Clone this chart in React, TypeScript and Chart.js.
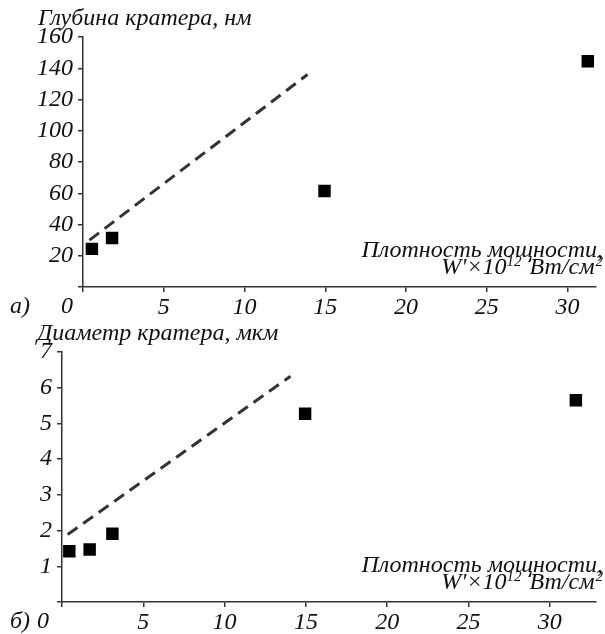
import React, { useEffect, useRef } from "react";
import { Chart, registerables } from "chart.js";

Chart.register(...registerables);

// ---- Data ----
const xTicks = [0, 5, 10, 15, 20, 25, 30];

const depthX = [0.55, 1.8, 14.95, 31.25];
const depthY = [24.4, 31.4, 61.5, 144.5];
const depthFitX = [0.4, 13.9];
const depthFitY = [30, 136];
const depthTicks = [0, 20, 40, 60, 80, 100, 120, 140, 160];

const diamX = [0.45, 1.7, 3.1, 14.95, 31.6];
const diamY = [1.42, 1.47, 1.91, 5.27, 5.65];
const diamFitX = [0.35, 14.05];
const diamFitY = [1.89, 6.32];
const diamTicks = [0, 1, 2, 3, 4, 5, 6, 7];

const FONT = "'Liberation Serif', 'Times New Roman', serif";
const INK = "#111";
const AXIS = "#333";
const FS = 24;

type PanelCfg = {
  xs: number[];
  ys: number[];
  fitX: number[];
  fitY: number[];
  yTicks: number[];
  yMax: number;
  xMax: number;
  yAxisWidth: number;
  xAxisHeight: number;
  topPad: number;
  title: string;
  titleX: number;
  titleY: number;
  panel: string;
  panelX: number;
  zeroX: number;
  labelsY: number;
  axisTitleY1: number;
  axisTitleY2: number;
};

function makeTextPlugin(cfg: PanelCfg) {
  return {
    id: "extraText",
    afterDraw(chart: any) {
      const ctx = chart.ctx as CanvasRenderingContext2D;
      ctx.save();
      ctx.fillStyle = INK;
      ctx.textBaseline = "alphabetic";
      const mainF = `italic ${FS}px ${FONT}`;
      const supF = `italic 15px ${FONT}`;
      // y-axis title
      ctx.font = mainF;
      ctx.textAlign = "left";
      ctx.fillText(cfg.title, cfg.titleX, cfg.titleY);
      // panel label and zero
      ctx.fillText(cfg.panel, cfg.panelX, cfg.labelsY);
      ctx.textAlign = "center";
      ctx.fillText("0", cfg.zeroX, cfg.labelsY);
      // x-axis title, right aligned
      ctx.textAlign = "right";
      ctx.fillText("Плотность мощности,", 603, cfg.axisTitleY1);
      const parts: [string, boolean, number][] = [
        ["W'×10", false, 0],
        ["12", true, 2],
        [" Вт/см", false, 1],
        ["2", true, 0],
      ];
      let total = 0;
      for (const [t, sup, gap] of parts) {
        ctx.font = sup ? supF : mainF;
        total += ctx.measureText(t).width + gap;
      }
      let x = 603 - total;
      ctx.textAlign = "left";
      for (const [t, sup, gap] of parts) {
        ctx.font = sup ? supF : mainF;
        ctx.fillText(t, x, cfg.axisTitleY2 - (sup ? 8 : 0));
        x += ctx.measureText(t).width + gap;
      }
      ctx.restore();
    },
  };
}

function buildChart(canvas: HTMLCanvasElement, cfg: PanelCfg) {
  const points = cfg.xs.map((x, i) => ({ x, y: cfg.ys[i] }));
  const fit = cfg.fitX.map((x, i) => ({ x, y: cfg.fitY[i] }));
  const tickFont = { family: FONT, size: FS, style: "italic" as const, lineHeight: 1.2 };
  return new Chart(canvas, {
    type: "scatter",
    data: {
      datasets: [
        {
          type: "line",
          data: fit,
          borderColor: AXIS,
          borderWidth: 3,
          borderDash: [12, 7],
          pointRadius: 0,
          fill: false,
        },
        {
          data: points,
          pointStyle: "rect",
          pointRadius: 8.8,
          backgroundColor: "#000",
          borderColor: "#000",
          borderWidth: 0,
        },
      ],
    },
    options: {
      responsive: false,
      animation: false,
      devicePixelRatio: 1,
      layout: { padding: { top: cfg.topPad, right: 1, left: 0, bottom: 0 } },
      plugins: { legend: { display: false }, tooltip: { enabled: false } },
      scales: {
        x: {
          type: "linear",
          min: 0,
          max: cfg.xMax,
          afterBuildTicks: (s: any) => {
            s.ticks = xTicks.map((v) => ({ value: v }));
          },
          afterFit: (s: any) => {
            s.height = cfg.xAxisHeight;
          },
          ticks: {
            font: tickFont,
            color: INK,
            padding: 1,
            maxRotation: 0,
            autoSkip: false,
            callback: (v: any) => (Number(v) === 0 ? "" : String(v)),
          },
          grid: {
            drawOnChartArea: false,
            drawTicks: true,
            tickLength: 5,
            color: AXIS,
            lineWidth: 1.5,
          },
          border: { display: true, color: AXIS, width: 1.5 },
        },
        y: {
          type: "linear",
          min: 0,
          max: cfg.yMax,
          afterBuildTicks: (s: any) => {
            s.ticks = cfg.yTicks.map((v) => ({ value: v }));
          },
          afterFit: (s: any) => {
            s.width = cfg.yAxisWidth;
          },
          ticks: {
            font: tickFont,
            color: INK,
            padding: 5,
            autoSkip: false,
            callback: (v: any) => (Number(v) === 0 ? "" : String(v)),
          },
          grid: {
            drawOnChartArea: false,
            drawTicks: true,
            tickLength: 5,
            color: AXIS,
            lineWidth: 1.5,
          },
          border: { display: true, color: AXIS, width: 1.5 },
        },
      },
    },
    plugins: [makeTextPlugin(cfg)],
  } as any);
}

const topCfg: PanelCfg = {
  xs: depthX,
  ys: depthY,
  fitX: depthFitX,
  fitY: depthFitY,
  yTicks: depthTicks,
  yMax: 160,
  xMax: 31.77,
  yAxisWidth: 83,
  xAxisHeight: 31,
  topPad: 37,
  title: "Глубина кратера, нм",
  titleX: 38,
  titleY: 25,
  panel: "а)",
  panelX: 10,
  zeroX: 67,
  labelsY: 313,
  axisTitleY1: 257,
  axisTitleY2: 274,
};

const botCfg: PanelCfg = {
  xs: diamX,
  ys: diamY,
  fitX: diamFitX,
  fitY: diamFitY,
  yTicks: diamTicks,
  yMax: 7,
  xMax: 32.85,
  yAxisWidth: 62,
  xAxisHeight: 32,
  topPad: 34,
  title: "Диаметр кратера, мкм",
  titleX: 37,
  titleY: 22,
  panel: "б)",
  panelX: 10,
  zeroX: 43,
  labelsY: 310,
  axisTitleY1: 254,
  axisTitleY2: 271,
};

export default function App() {
  const topRef = useRef<HTMLCanvasElement>(null);
  const botRef = useRef<HTMLCanvasElement>(null);
  useEffect(() => {
    const c1 = buildChart(topRef.current!, topCfg);
    const c2 = buildChart(botRef.current!, botCfg);
    return () => {
      c1.destroy();
      c2.destroy();
    };
  }, []);
  return (
    <div
      style={{
        position: "absolute",
        left: 0,
        top: 0,
        width: 605,
        height: 634,
        background: "#fff",
      }}
    >
      <canvas
        ref={topRef}
        width={605}
        height={318}
        style={{ position: "absolute", left: 0, top: 0, width: 605, height: 318 }}
      />
      <canvas
        ref={botRef}
        width={605}
        height={316}
        style={{ position: "absolute", left: 0, top: 318, width: 605, height: 316 }}
      />
    </div>
  );
}
